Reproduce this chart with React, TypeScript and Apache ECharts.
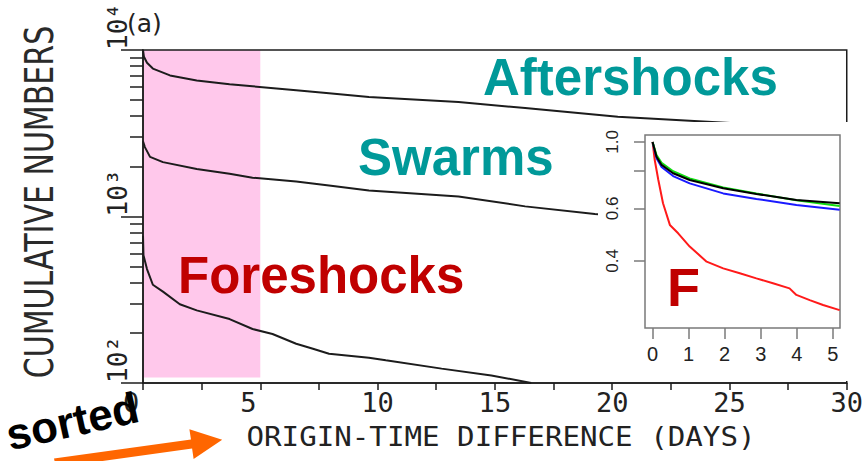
import { useEffect, useRef } from 'react';
import * as echarts from 'echarts';

// Main panel: cumulative numbers of event pairs versus origin-time difference (days)
const aftershockDays = [0, 0.04, 0.17, 0.42, 1.15, 2.29, 3.69, 4.67, 6.53, 7.93, 9.63, 13.45, 16.29, 20.24, 26.18, 30];
const aftershockCounts = [10000, 9100, 8380, 7730, 7030, 6560, 6220, 6050, 5730, 5500, 5210, 4870, 4480, 3970, 3570, 3300];

const swarmDays = [0, 0.08, 0.3, 0.85, 2.29, 3.69, 4.67, 6.53, 7.93, 9.63, 13.45, 16.29, 19.26, 22, 26, 30];
const swarmCounts = [2830, 2610, 2280, 2120, 1930, 1805, 1710, 1620, 1535, 1430, 1320, 1150, 1035, 970, 900, 840];

const foreshockDays = [0, 0.02, 0.17, 0.42, 0.85, 1.57, 2.29, 3.69, 4.67, 5.52, 6.53, 7.21, 7.93, 9.63, 10.35, 12.73, 14.85, 16.55];
const foreshockCounts = [767, 585, 483, 389, 354, 297, 273, 242, 211, 197, 172, 161, 150, 142, 137, 122, 111, 100];

// Highlighted window (days) and its count range
const highlightDays = [0, 5];
const highlightCounts = [108, 10000];

// Count axis (drawn in decades, i.e. log10 of the count)
const countRange = [100, 10000];
const countMajorTicks = [100, 1000, 10000];
const countMinorTicks = [200, 300, 400, 500, 600, 700, 800, 900, 2000, 3000, 4000, 5000, 6000, 7000, 8000, 9000];
const superscripts: Record<number, string> = { 2: '²', 3: '³', 4: '⁴' };

// Inset: normalised cumulative curves over the first days
const insetDays = [0, 0.11, 0.25, 0.57, 1.03, 1.96, 2.88, 3.99, 5.19];
const insetBlack = [1.0, 0.893, 0.838, 0.786, 0.746, 0.7, 0.67, 0.64, 0.624];
const insetGreen = [1.0, 0.905, 0.852, 0.798, 0.755, 0.705, 0.672, 0.638, 0.611];
const insetBlue = [1.0, 0.882, 0.825, 0.769, 0.727, 0.673, 0.645, 0.616, 0.593];
const insetRedDays = [0, 0.06, 0.16, 0.29, 0.48, 0.71, 1.03, 1.5, 1.96, 2.42, 2.88, 3.34, 3.8, 3.99, 4.36, 4.73, 5.19];
const insetRed = [1.0, 0.87, 0.746, 0.624, 0.528, 0.495, 0.447, 0.398, 0.378, 0.364, 0.35, 0.337, 0.324, 0.308, 0.296, 0.285, 0.274];

const insetDayRange = [-0.21, 5.2];
const insetFractionRange = [0.2388, 1.055];
const insetXTicks = [0, 1, 2, 3, 4, 5];
const insetYTicks = [0.4, 0.6, 0.8, 1.0];
const insetYLabels = [0.4, 0.6, 1.0];

const lg = Math.log10;
const logPairs = (xs: number[], ys: number[]) => xs.map((x, i) => [x, lg(ys[i])]);

const INK = '#1c1c1c';
const FRAME = '#7a7a7a';
const MONO = 'DejaVu Sans Mono';
const ARIAL = 'Liberation Sans';

function buildOption(): echarts.EChartsOption {
  const mainLine = (name: string, data: number[][], extra: any = {}) => ({
    name,
    type: 'line' as const,
    xAxisIndex: 0,
    yAxisIndex: 0,
    data,
    showSymbol: false,
    symbol: 'none',
    z: 2,
    lineStyle: { color: INK, width: 2 },
    ...extra,
  });
  const insetLine = (name: string, data: number[][], color: string) => ({
    name,
    type: 'line' as const,
    xAxisIndex: 1,
    yAxisIndex: 2,
    data,
    showSymbol: false,
    symbol: 'none',
    z: 5,
    lineStyle: { color, width: 2 },
  });

  // orange arrow outline (canvas pixels)
  const arrow = [
    [54, 458.5],
    [191, 439.5],
    [189.4, 429.2],
    [222.2, 439.7],
    [193.6, 458.9],
    [192.1, 448.5],
    [56, 467.5],
  ];

  return {
    animation: false,
    backgroundColor: '#ffffff',
    grid: [
      { left: 143, top: 44, right: 16, bottom: 78, show: true, borderColor: INK, borderWidth: 1.5, backgroundColor: 'transparent', z: 2 },
      { left: 645, top: 135, width: 195, height: 193, show: true, borderColor: FRAME, borderWidth: 1.5, backgroundColor: 'transparent', z: 4 },
    ],
    xAxis: [
      {
        type: 'value',
        gridIndex: 0,
        min: 0,
        max: 30,
        interval: 2.5,
        z: 2,
        splitLine: { show: false },
        axisLine: { show: true, onZero: false, lineStyle: { color: INK, width: 1.5 } },
        axisTick: { show: true, length: 7, lineStyle: { color: INK, width: 1.5 } },
        axisLabel: {
          fontFamily: MONO,
          fontSize: 27,
          color: '#222',
          margin: 6,
          formatter: (v: number) => (v % 5 !== 0 ? '' : v < 10 ? `{s|${v}}` : String(v)),
          rich: { s: { width: 40, align: 'left', fontFamily: MONO, fontSize: 27, color: '#222' } },
        },
      },
      {
        type: 'value',
        gridIndex: 1,
        min: insetDayRange[0],
        max: insetDayRange[1],
        z: 4,
        splitLine: { show: false },
        axisLine: { show: false, onZero: false },
        axisTick: { show: true, customValues: insetXTicks, length: 11, lineStyle: { color: FRAME, width: 1.5 } },
        axisLabel: { customValues: insetXTicks, fontFamily: ARIAL, fontSize: 20, color: '#222', margin: 16 },
      },
    ],
    yAxis: [
      {
        type: 'value',
        gridIndex: 0,
        min: lg(countRange[0]),
        max: lg(countRange[1]),
        z: 2,
        splitLine: { show: false },
        axisLine: { show: true, onZero: false, lineStyle: { color: INK, width: 1.5 } },
        axisTick: { show: true, customValues: countMinorTicks.map(lg), length: 13, lineStyle: { color: INK, width: 1.5 } },
        axisLabel: {
          customValues: countMajorTicks.map(lg),
          rotate: 90,
          align: 'left',
          verticalAlign: 'bottom',
          margin: 12,
          fontFamily: MONO,
          fontSize: 26,
          color: '#222',
          formatter: (v: number) => '10' + superscripts[Math.round(v)],
        },
      },
      {
        type: 'value',
        gridIndex: 0,
        position: 'left',
        min: lg(countRange[0]),
        max: lg(countRange[1]),
        z: 2,
        splitLine: { show: false },
        axisLine: { show: false, onZero: false },
        axisTick: { show: true, customValues: countMajorTicks.map(lg), length: 22, lineStyle: { color: INK, width: 1.5 } },
        axisLabel: { show: false },
      },
      {
        type: 'value',
        gridIndex: 1,
        min: lg(insetFractionRange[0]),
        max: lg(insetFractionRange[1]),
        z: 4,
        splitLine: { show: false },
        axisLine: { show: false, onZero: false },
        axisTick: { show: true, customValues: insetYTicks.map(lg), length: 11, lineStyle: { color: FRAME, width: 1.5 } },
        axisLabel: {
          customValues: insetYLabels.map(lg),
          rotate: 90,
          align: 'center',
          verticalAlign: 'bottom',
          margin: 24,
          fontFamily: ARIAL,
          fontSize: 17,
          color: '#222',
          formatter: (v: number) => Math.pow(10, v).toFixed(1),
        },
      },
    ],
    series: [
      mainLine('Aftershocks', logPairs(aftershockDays, aftershockCounts)),
      mainLine('Swarms', logPairs(swarmDays, swarmCounts)),
      mainLine('Foreshocks', logPairs(foreshockDays, foreshockCounts), {
        markArea: {
          silent: true,
          z: 1,
          itemStyle: { color: '#FFC8EB' },
          data: [[
            { xAxis: highlightDays[0], yAxis: lg(highlightCounts[0]) },
            { xAxis: highlightDays[1], yAxis: lg(highlightCounts[1]) },
          ]],
        },
      }),
      insetLine('Foreshocks (F)', logPairs(insetRedDays, insetRed), '#ff1a1a'),
      insetLine('Swarms (S)', logPairs(insetDays, insetBlue), '#1a1aff'),
      insetLine('Aftershocks (A)', logPairs(insetDays, insetGreen), '#11dd11'),
      insetLine('All', logPairs(insetDays, insetBlack), '#000000'),
    ],
    graphic: [
      // white panel behind the inset
      { type: 'rect', z: 3, silent: true, shape: { x: 598, y: 122, width: 250, height: 259 }, style: { fill: '#ffffff' } },
      // axis titles
      {
        type: 'text',
        z: 10,
        x: 40,
        y: 202,
        rotation: Math.PI / 2,
        scaleX: 0.77,
        style: { text: 'CUMULATIVE NUMBERS', fontFamily: 'DejaVu Sans', fontSize: 39, fill: '#2a2a2a', align: 'center', verticalAlign: 'middle' },
      },
      {
        type: 'text',
        z: 10,
        x: 501,
        y: 437,
        scaleX: 1.08,
        style: { text: 'ORIGIN-TIME DIFFERENCE (DAYS)', fontFamily: MONO, fontSize: 27, fill: '#222', align: 'center', verticalAlign: 'middle' },
      },
      { type: 'text', z: 10, x: 127, y: 23, style: { text: '(a)', fontFamily: 'DejaVu Sans', fontSize: 25, fill: '#222', align: 'left', verticalAlign: 'middle' } },
      // group labels
      { type: 'text', z: 10, x: 483, y: 77, style: { text: 'Aftershocks', fontFamily: ARIAL, fontWeight: 'bold', fontSize: 51, fill: '#009999', align: 'left', verticalAlign: 'middle' } },
      { type: 'text', z: 10, x: 358, y: 157, style: { text: 'Swarms', fontFamily: ARIAL, fontWeight: 'bold', fontSize: 51, fill: '#009999', align: 'left', verticalAlign: 'middle' } },
      { type: 'text', z: 10, x: 178, y: 275, style: { text: 'Foreshocks', fontFamily: ARIAL, fontWeight: 'bold', fontSize: 51, fill: '#C00000', align: 'left', verticalAlign: 'middle' } },
      { type: 'text', z: 10, x: 667, y: 287, style: { text: 'F', fontFamily: ARIAL, fontWeight: 'bold', fontSize: 54, fill: '#C00000', align: 'left', verticalAlign: 'middle' } },
      // "sorted" note with arrow
      {
        type: 'text',
        z: 10,
        x: 10,
        y: 450,
        rotation: 0.218,
        style: { text: 'sorted', x: 0, y: -15, fontFamily: ARIAL, fontWeight: 'bold', fontSize: 44, fill: '#000000', align: 'left', verticalAlign: 'middle' },
      },
      { type: 'polygon', z: 10, silent: true, shape: { points: arrow }, style: { fill: '#FF6600' } },
    ],
  } as any;
}

export default function App() {
  const ref = useRef<HTMLDivElement>(null);
  useEffect(() => {
    const chart = echarts.init(ref.current!, null, { renderer: 'svg' });
    chart.setOption(buildOption());
    return () => chart.dispose();
  }, []);
  return <div ref={ref} style={{ position: 'absolute', left: 0, top: 0, width: 866, height: 461 }} />;
}
